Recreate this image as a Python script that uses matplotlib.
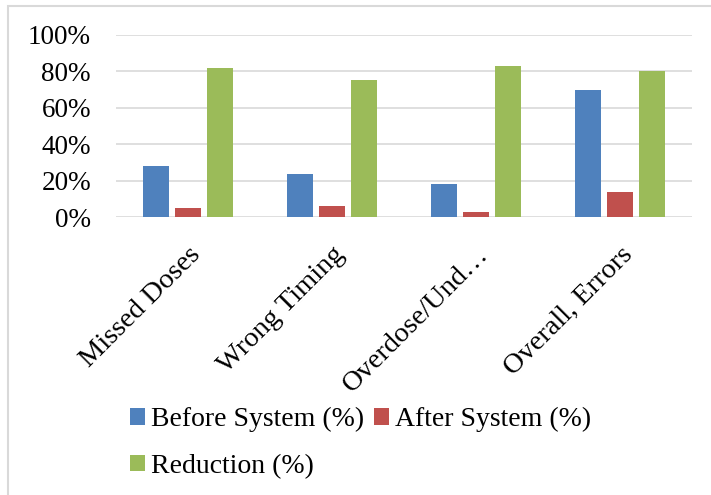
import matplotlib
matplotlib.use("Agg")
import matplotlib.pyplot as plt
import numpy as np
from matplotlib.patches import Rectangle
from matplotlib.ticker import PercentFormatter

categories = ["Missed Doses", "Wrong Timing", "Overdose/Und…", "Overall, Errors"]
before = [28, 24, 18, 70]
after = [5, 6, 3, 14]
reduction = [82, 75, 83, 80]
series_names = ["Before System (%)", "After System (%)", "Reduction (%)"]
colors = ["#4F81BD", "#C0504D", "#9BBB59"]

plt.rcParams['font.family'] = ['Liberation Serif', 'DejaVu Serif']

W, H = 711, 495
fig = plt.figure(figsize=(W / 100, H / 100), dpi=100)

# outer chart border (extends past right and bottom edges)
fig.patches.append(Rectangle((7.5 / W, -0.1), 1.2, 1.1 - 6 / H, transform=fig.transFigure,
                             fill=False, edgecolor="#d9d9d9", linewidth=1.5))

ax = fig.add_axes([116 / W, 1 - 217.3 / H, 576 / W, 182.5 / H])
x = np.arange(len(categories))
bw = 0.175
off = 0.222
bars = []
for i, (vals, c) in enumerate(zip([before, after, reduction], colors)):
    b = ax.bar(x + (i - 1) * off, vals, bw, color=c, label=series_names[i], zorder=3)
    bars.append(b)

ax.set_xlim(-0.5, len(categories) - 0.5)
ax.set_ylim(0, 100)
ax.set_yticks(np.arange(0, 101, 20))
ax.yaxis.set_major_formatter(PercentFormatter(decimals=0))
ax.grid(axis="y", color="#d9d9d9", linewidth=1.2, zorder=0)
for s in ax.spines.values():
    s.set_visible(False)
ax.tick_params(axis="both", length=0, labelsize=19.5)
ax.tick_params(axis="y", pad=18)
ax.set_xticks(x)
ax.set_xticklabels(categories, rotation=45, ha="right", rotation_mode="anchor",
                   fontsize=20.5)
ax.tick_params(axis="x", pad=18)

handles = [bars[0], bars[2], bars[1]]
labels = [series_names[0], series_names[2], series_names[1]]
leg = fig.legend(handles, labels, ncol=2, loc="upper left",
                 bbox_to_anchor=(130 / W, 1 - 407 / H), frameon=False,
                 fontsize=20, handlelength=0.55, handleheight=0.55,
                 handletextpad=0.2, columnspacing=0.35, labelspacing=0.78,
                 borderaxespad=0, borderpad=0)

fig.savefig("out.png", dpi=100)
